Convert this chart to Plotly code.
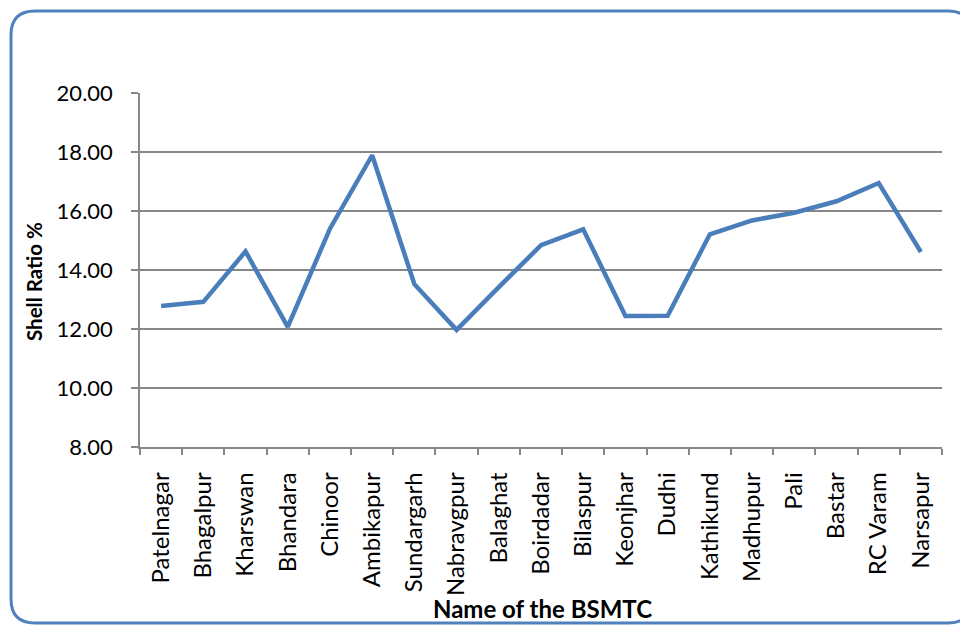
import plotly.graph_objects as go

# Shell ratio (%) for each BSMTC
centres = ["Patelnagar", "Bhagalpur", "Kharswan", "Bhandara", "Chinoor", "Ambikapur",
           "Sundargarh", "Nabravgpur", "Balaghat", "Boirdadar", "Bilaspur", "Keonjhar",
           "Dudhi", "Kathikund", "Madhupur", "Pali", "Bastar", "RC Varam", "Narsapur"]
shell_ratio = [12.78, 12.92, 14.63, 12.07, 15.40, 17.89, 13.52, 11.97, 13.42, 14.84,
               15.38, 12.44, 12.45, 15.21, 15.68, 15.94, 16.33, 16.95, 14.61]
y_ticks = [8, 10, 12, 14, 16, 18, 20]
y_tick_text = [f"{v:.2f}" for v in y_ticks]

W, H = 960, 626
ML, MR, MT, MB = 140, 18, 93, 179
PW, PH = W - ML - MR, H - MT - MB

FONT = "Lato"
GRID = "#878787"
BLUE = "#4A7EBB"


def px(x):
    return (x - ML) / PW


def py(y):
    return (H - MB - y) / PH


def rounded_rect(x0, y0, x1, y1, r):
    return (f"M {px(x0 + r)},{py(y0)} L {px(x1 - r)},{py(y0)} "
            f"Q {px(x1)},{py(y0)} {px(x1)},{py(y0 + r)} "
            f"L {px(x1)},{py(y1 - r)} Q {px(x1)},{py(y1)} {px(x1 - r)},{py(y1)} "
            f"L {px(x0 + r)},{py(y1)} Q {px(x0)},{py(y1)} {px(x0)},{py(y1 - r)} "
            f"L {px(x0)},{py(y0 + r)} Q {px(x0)},{py(y0)} {px(x0 + r)},{py(y0)} Z")


fig = go.Figure()
fig.add_trace(go.Scatter(
    x=centres, y=shell_ratio, mode="lines",
    line=dict(color=BLUE, width=4.5),
    hoverinfo="x+y",
))

fig.update_layout(
    width=W, height=H, autosize=False,
    margin=dict(l=ML, r=MR, t=MT, b=MB, pad=0),
    paper_bgcolor="white", plot_bgcolor="white",
    showlegend=False,
    font=dict(family=FONT, color="black", size=20),
    xaxis=dict(
        type="category", tickangle=-90, tickson="boundaries",
        ticks="outside", ticklen=6, tickwidth=1.5, tickcolor=GRID,
        showline=True, linecolor=GRID, linewidth=1.5,
        showgrid=False, zeroline=False,
        tickfont=dict(family=FONT, size=24, color="black"),
        ticklabelstandoff=14,
        range=[-0.5, len(centres) - 0.5],
    ),
    yaxis=dict(
        range=[8, 20], tickvals=y_ticks, ticktext=y_tick_text,
        ticks="outside", ticklen=7, tickwidth=1.5, tickcolor=GRID,
        showline=True, linecolor=GRID, linewidth=1.5,
        showgrid=True, gridcolor=GRID, gridwidth=1.5, zeroline=False,
        tickfont=dict(family=FONT, size=22, color="black"),
        ticklabelstandoff=14,
    ),
    shapes=[dict(
        type="path", xref="paper", yref="paper",
        path=rounded_rect(11, 11, 972, 623, 24),
        line=dict(color="#4F81BD", width=3), fillcolor="rgba(0,0,0,0)",
        layer="below",
    )],
    annotations=[
        dict(text="<b>Shell Ratio %</b>", xref="paper", yref="paper",
             x=px(34), y=py(281), textangle=-90, showarrow=False,
             font=dict(family=FONT, size=20.5, color="black"),
             xanchor="center", yanchor="middle"),
        dict(text="<b>Name of the BSMTC</b>", xref="paper", yref="paper",
             x=px(542), y=py(608), showarrow=False,
             font=dict(family=FONT, size=24, color="black"),
             xanchor="center", yanchor="middle"),
    ],
)

fig.write_html("out.html")
